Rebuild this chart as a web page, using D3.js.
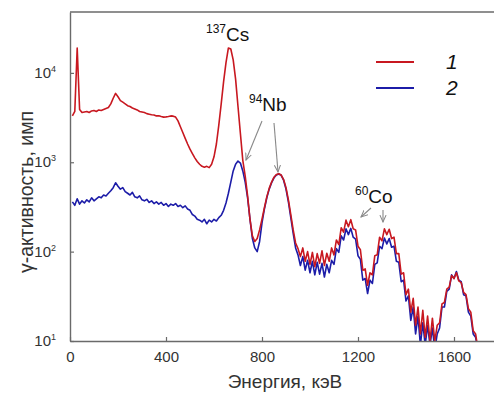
<!DOCTYPE html>
<html><head><meta charset="utf-8">
<script src="https://cdn.jsdelivr.net/npm/d3@7"></script>
<style>
body{margin:0;background:#fff;}
svg{display:block;font-family:"Liberation Sans",Arial,sans-serif;}
</style></head>
<body><svg id="c" width="494" height="394"></svg>
<script>
// Energy channels (keV), 10 keV step
const energy = d3.range(10, 1710, 10);

// Series 1 (red)
const series1 = [
3300,3700,19000,3900,3600,3650,3700,3600,3750,3800,
3700,3850,3800,3900,4000,4100,4500,5200,5900,5400,
4900,4700,4500,4300,4200,4050,3950,3850,3700,3650,
3600,3500,3450,3400,3380,3300,3320,3250,3200,3220,
3250,3300,3280,3200,2900,2500,2150,1850,1600,1400,
1250,1120,1020,950,900,880,900,870,950,1150,
1600,2600,4500,8000,13000,19000,18500,14000,8500,4200,
2100,1050,700,420,230,150,130,140,175,230,
310,410,510,600,680,730,745,720,640,520,
380,260,175,125,108,88,110,78,100,72,
98,68,95,74,102,70,96,78,110,92,
135,120,185,165,225,190,228,180,175,115,
105,62,64,42,58,55,90,92,145,132,
180,155,178,140,145,95,95,56,58,33,
38,21,30,15,24,12,22,11,19,10,
18,10,15,16,26,27,38,40,54,50,
58,47,45,35,33,23,21,13,12,8
];

// Series 2 (blue)
const series2 = [
360,330,390,340,370,350,380,360,400,370,
390,410,400,430,420,450,480,520,590,540,
500,520,470,450,430,460,410,400,420,380,
370,385,355,370,345,360,340,355,330,345,
320,340,330,345,320,330,310,325,300,290,
260,250,230,225,215,230,205,225,215,230,
220,240,255,290,350,450,600,800,950,1030,
980,800,600,400,230,140,110,100,130,210,
300,400,500,590,670,720,740,715,630,500,
360,240,160,110,92,70,88,62,80,58,
78,55,76,56,74,52,72,58,80,72,
108,98,150,135,180,155,182,145,138,90,
82,48,50,34,48,44,72,75,115,108,
142,122,140,112,115,78,76,46,48,28,
32,17,24,12,19,9,16,9,15,9,
14,8,12,14,24,24,36,38,55,50,
60,48,46,33,32,21,19,12,11,8
];

const xTicks = [0, 400, 800, 1200, 1600];
const yTicks = [10, 100, 1000, 10000];
const yExp = ["1", "2", "3", "4"];
const legendLabels = ["1", "2"];
const colors = ["#c81820", "#1c1ca8"];

const svg = d3.select("#c");
const L = 70, T = 12, B = 341, R = 502;
const x = d3.scaleLinear().domain([0, 1800]).range([L, R]);
const y = d3.scaleLog().domain([10, 48000]).range([B, T]);

svg.append("clipPath").attr("id","clip").append("rect")
  .attr("x", L).attr("y", T).attr("width", R - L).attr("height", B - T);

const axisColor = "#6a6a6a";
const textColor = "#333";

// lines
const line = d3.line().x((d,i)=>x(energy[i])).y(d=>y(Math.max(d, 8)));
const g = svg.append("g").attr("clip-path","url(#clip)");
g.append("path").datum(series2).attr("d", line)
  .attr("fill","none").attr("stroke", colors[1]).attr("stroke-width",1.6).attr("stroke-linejoin","round");
g.append("path").datum(series1).attr("d", line)
  .attr("fill","none").attr("stroke", colors[0]).attr("stroke-width",1.6).attr("stroke-linejoin","round");

// axes
const xAxis = svg.append("g").attr("transform", `translate(0,${B})`)
  .call(d3.axisBottom(x).tickValues(xTicks).tickSize(-4).tickSizeOuter(0).tickPadding(10).tickFormat(d3.format("d")));
xAxis.select(".domain").attr("stroke", axisColor).attr("stroke-width",1.4);
xAxis.selectAll(".tick line").attr("stroke", axisColor).attr("stroke-width",1.2);
xAxis.selectAll(".tick text").attr("font-size", 15).attr("fill", textColor)
  .attr("font-family","Liberation Sans, Arial, sans-serif");

const yAxis = svg.append("g").attr("transform", `translate(${L},0)`)
  .call(d3.axisLeft(y).tickValues(yTicks).tickSize(-4).tickSizeOuter(0).tickFormat(""));
yAxis.select(".domain").attr("stroke", axisColor).attr("stroke-width",1.4);
yAxis.selectAll(".tick line").attr("stroke", axisColor).attr("stroke-width",1.2);

yTicks.forEach((v,i)=>{
  const t = svg.append("text").attr("x", L - 14).attr("y", y(v) + 5)
    .attr("text-anchor","end").attr("font-size",15).attr("fill", textColor);
  t.append("tspan").text("10");
  t.append("tspan").attr("dy",-6).attr("font-size",9).text(yExp[i]);
});

// top frame line
svg.append("line").attr("x1", L).attr("x2", R).attr("y1", T).attr("y2", T)
  .attr("stroke", axisColor).attr("stroke-width",1.4);

// axis titles
svg.append("text").attr("x", 285).attr("y", 388).attr("text-anchor","middle")
  .attr("font-size",19).attr("fill", textColor).text("Энергия, кэВ");
svg.append("text").attr("transform","translate(33,192) rotate(-90)").attr("text-anchor","middle")
  .attr("font-size",19.5).attr("fill", textColor).text("γ-активность, имп");

// annotations
function iso(xp, yp, mass, el){
  const t = svg.append("text").attr("x", xp).attr("y", yp).attr("fill","#111");
  t.append("tspan").attr("font-size",12).attr("dy",-8).text(mass);
  t.append("tspan").attr("font-size",19).attr("dy",8).text(el);
}
iso(206, 41, "137", "Cs");
iso(249, 111, "94", "Nb");
iso(355, 203, "60", "Co");

// arrows
const defs = svg.append("defs");
defs.append("marker").attr("id","ah").attr("viewBox","0 0 10 10").attr("refX",9).attr("refY",5)
  .attr("markerWidth",7).attr("markerHeight",7).attr("orient","auto-start-reverse")
  .append("path").attr("d","M0,1 L9,5 L0,9").attr("fill","none").attr("stroke","#888").attr("stroke-width",1.3);
const arrows = [
  [262,121,246,160],[274,123,278,172],
  [371,208,361,217],[383,210,383,222]
];
arrows.forEach(a=>{
  svg.append("line").attr("x1",a[0]).attr("y1",a[1]).attr("x2",a[2]).attr("y2",a[3])
    .attr("stroke","#888").attr("stroke-width",1.1).attr("marker-end","url(#ah)");
});

// legend
legendLabels.forEach((lab,i)=>{
  const yy = 62 + i*26;
  svg.append("line").attr("x1",376).attr("x2",414).attr("y1",yy).attr("y2",yy)
    .attr("stroke", colors[i]).attr("stroke-width",2);
  svg.append("text").attr("x",446).attr("y",yy+7).attr("font-size",21)
    .attr("font-style","italic").attr("fill","#111").text(lab);
});
</script></body></html>
